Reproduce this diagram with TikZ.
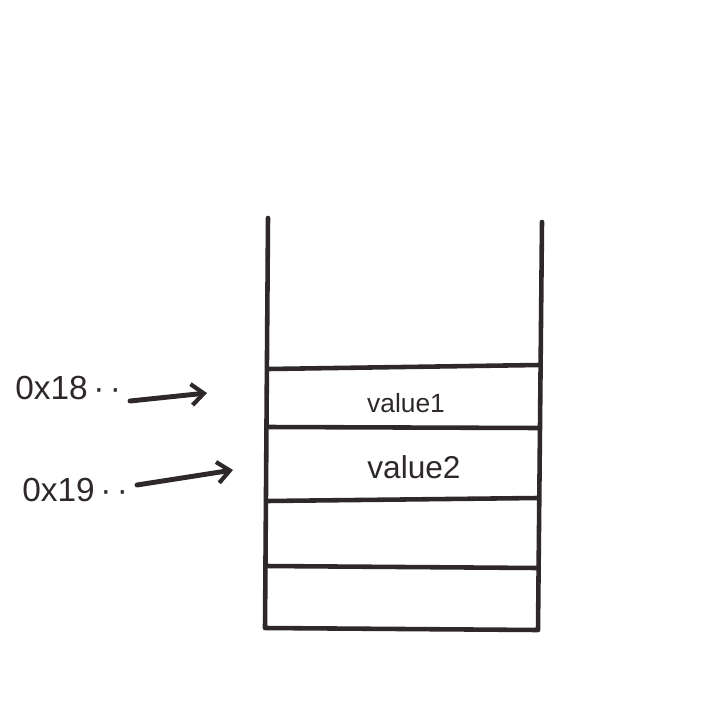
\documentclass[tikz,border=0pt]{standalone}
\usepackage{fontspec}
\setmainfont{Liberation Sans}
\usetikzlibrary{arrows.meta}
\definecolor{ink}{HTML}{2E282A}
\tikzset{
  wall/.style={draw=ink,line width=2.6pt,line cap=round,line join=round},
  ptr/.style={draw=ink,line width=2.8pt,line cap=round,-{Straight Barb[length=7pt,width=12pt,line width=2.4pt]}},
  addr/.style={text=ink,inner sep=0pt,anchor=west,font=\fontsize{19}{21}\selectfont},
  cell/.style={text=ink,inner sep=0pt}
}
\begin{document}
\begin{tikzpicture}[x=0.02cm,y=-0.02cm]
  \useasboundingbox (0,0) rectangle (720,720);
  % stack walls
  \coordinate (TL) at (268,218);
  \coordinate (BL) at (265,628);
  \coordinate (TR) at (542,222);
  \coordinate (BR) at (538,630);
  \draw[wall] (TL) -- (BL) -- (BR) -- (TR);
  % slots
  \draw[wall] (268,369) -- (539,365);
  \draw[wall] (268,427) -- (539,428);
  \draw[wall] (267,501) -- (538,498);
  \draw[wall] (266,566) -- (538,568);
  \node[cell,font=\fontsize{15}{17}\selectfont] (v1) at (406,403) {value1};
  \node[cell,font=\fontsize{18}{20}\selectfont] (v2) at (414,467) {value2};
  % addresses
  \node[addr] (a1) at (15,388) {0x18\,\textperiodcentered\,\textperiodcentered};
  \node[addr] (a2) at (22,490) {0x19\,\textperiodcentered\,\textperiodcentered};
  \coordinate (p1) at (130,401);
  \coordinate (q1) at (207,393);
  \coordinate (p2) at (137,485);
  \coordinate (q2) at (233,470);
  \draw[ptr] (p1) -- (q1);
  \draw[ptr] (p2) -- (q2);
\end{tikzpicture}
\end{document}
